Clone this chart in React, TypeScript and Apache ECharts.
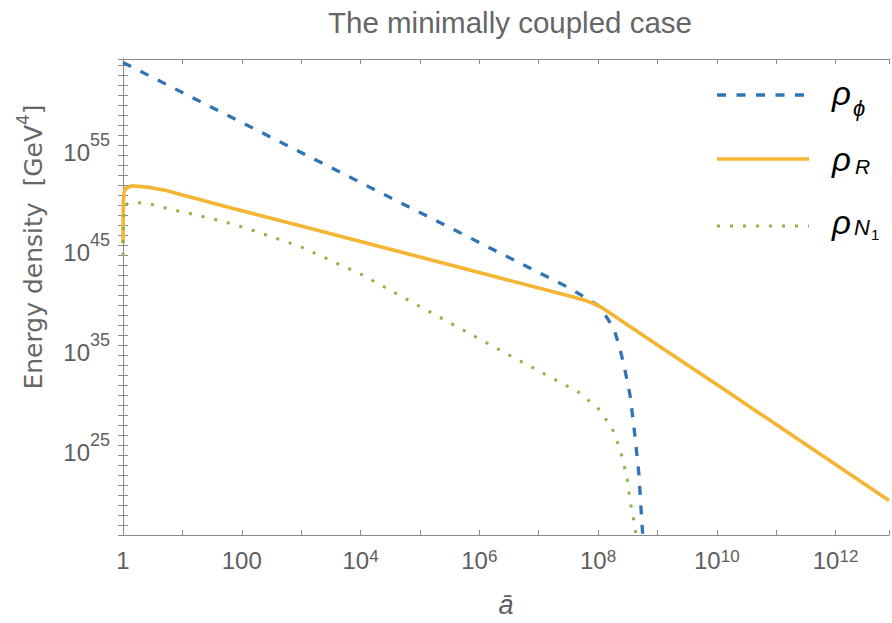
import React, { useEffect, useRef } from "react";
import * as echarts from "echarts";

const chartTitle = "The minimally coupled case";
const yTitle = "Energy density  [GeV";
const xTitle = "ā";

// log10(ā) and log10(ρ / GeV^4)
const rhoPhiLogA = [0, 1, 2, 3, 4, 5, 6, 7, 7.5, 7.87, 8.0, 8.1, 8.27, 8.37, 8.45, 8.54, 8.62, 8.69, 8.72, 8.75, 8.77];
const rhoPhiLogRho = [63.25, 60.25, 57.25, 54.25, 51.25, 48.25, 45.25, 42.25, 40.75, 39.45, 38.95, 38.2, 36.6, 34.6, 32.6, 29.95, 26.0, 22.0, 19.0, 16.2, 14.0];

const rhoRLogA = [0, 0.002, 0.006, 0.015, 0.04, 0.14, 0.45, 0.73, 1.0, 1.29, 1.84, 2.12, 3, 4, 5, 6, 7, 7.6, 7.8, 7.9, 8.0, 8.1, 9, 10, 11, 12, 12.9];
const rhoRLogRho = [45.2, 47.5, 49.3, 50.2, 50.65, 50.92, 50.76, 50.46, 50.0, 49.55, 48.68, 48.25, 46.89, 45.34, 43.8, 42.25, 40.7, 39.77, 39.42, 39.2, 38.95, 38.6, 35.0, 31.05, 27.05, 23.05, 19.45];

const rhoN1LogA = [0, 0.005, 0.028, 0.1, 0.22, 0.45, 0.85, 1.26, 1.67, 2.08, 3, 4, 5, 6, 6.56, 7.12, 7.68, 8.0, 8.24, 8.38, 8.49, 8.53, 8.57, 8.61, 8.64, 8.67];
const rhoN1LogRho = [43.9, 47.0, 49.0, 49.2, 49.26, 49.1, 48.51, 47.97, 47.38, 46.68, 44.8, 42.1, 38.85, 35.62, 33.8, 32.04, 30.25, 28.66, 26.67, 24.35, 21.7, 19.8, 18.4, 17.2, 16.0, 14.5];

const seriesNames = ["ρϕ", "ρR", "ρN1"];
const legendSubs = ["ϕ", "R", "N"];
const seriesColors = ["#2f74b5", "#f6b433", "#8fb443"];
const seriesDash: (number[] | "solid")[] = [[9, 10.5], "solid", [3, 10]];
const seriesWidth = [3.3, 3.6, 3];

const xMinExp = 0;
const xMaxExp = 12.9;
const yMinExp = 16;
const yMaxExp = 63.6;

const FONT = "'Liberation Sans', Arial, sans-serif";
const GRAY = "#5e5e5e";
const AXIS = "#8a8a8a";

function pairs(xs: number[], ys: number[]) {
  return xs.map((x, i) => [x, ys[i]]);
}

// legend layout (pixels)
const legendLineY = [95, 159, 226];
const legendRhoY = [93, 159, 222];
const legendSubY = [108, 166, 227.4];
const legendSubX = [853, 855, 854];
const legendSubSize = [22, 21, 22];

export default function App() {
  const ref = useRef<HTMLDivElement>(null);
  useEffect(() => {
    if (!ref.current) return;
    const chart = echarts.init(ref.current, undefined, { renderer: "svg" });

    const xLabel = (v: number) => {
      const r = Math.round(v);
      if (Math.abs(v - r) > 1e-6 || r % 2 !== 0) return "";
      if (r === 0) return "{n|1}";
      if (r === 2) return "{n|100}";
      return `{b|10}{s|${r}}`;
    };
    const yLabel = (v: number) => {
      const r = Math.round(v);
      if (Math.abs(v - r) > 1e-6 || ((r - 25) % 10 + 10) % 10 !== 0) return "";
      return `{b|10}{s|${r}}`;
    };

    const baseAxis = {
      type: "value" as const,
      axisLine: { show: true, lineStyle: { color: AXIS, width: 1 } },
      axisTick: { show: true, inside: true, length: 5, lineStyle: { color: AXIS, width: 1 } },
      splitLine: { show: false },
    };

    const legendGraphics: any[] = [];
    seriesNames.forEach((_, i) => {
      legendGraphics.push({
        type: "line",
        shape: { x1: 717, y1: legendLineY[i], x2: 809, y2: legendLineY[i] },
        style: {
          stroke: seriesColors[i],
          lineWidth: seriesWidth[i],
          lineDash: seriesDash[i] === "solid" ? null : seriesDash[i],
          lineCap: "butt",
        },
      });
      legendGraphics.push({
        type: "text",
        x: 832,
        y: legendRhoY[i],
        style: {
          text: "ρ",
          align: "left",
          verticalAlign: "middle",
          fontFamily: FONT,
          fontSize: 33,
          fontStyle: "italic",
          fill: "#000",
        },
      });
      legendGraphics.push({
        type: "text",
        x: legendSubX[i],
        y: legendSubY[i],
        style: {
          text: legendSubs[i],
          align: "left",
          verticalAlign: "middle",
          fontFamily: FONT,
          fontSize: legendSubSize[i],
          fontStyle: "italic",
          fill: "#000",
        },
      });
    });
    legendGraphics.push({
      type: "text",
      x: 871,
      y: 234.8,
      style: {
        text: "1",
        align: "left",
        verticalAlign: "middle",
        fontFamily: FONT,
        fontSize: 15,
        fill: "#000",
      },
    });

    const option: any = {
      animation: false,
      grid: { left: 123, right: -1, top: 59, bottom: 85.5 },
      xAxis: [
        {
          ...baseAxis,
          position: "bottom",
          min: xMinExp,
          max: xMaxExp,
          interval: 1,
          name: xTitle,
          nameLocation: "middle",
          nameGap: 56,
          nameTextStyle: { fontFamily: FONT, fontSize: 27, fontStyle: "italic", color: GRAY },
          axisLabel: {
            formatter: xLabel,
            margin: 13,
            verticalAlign: "top",
            color: GRAY,
            fontFamily: FONT,
            rich: {
              n: { fontFamily: FONT, fontSize: 24, lineHeight: 24, color: GRAY },
              b: { fontFamily: FONT, fontSize: 24, lineHeight: 24, padding: [10, 0, 0, 0], verticalAlign: "bottom", color: GRAY },
              s: { fontFamily: FONT, fontSize: 17, lineHeight: 11, verticalAlign: "top", color: GRAY },
            },
          },
        },
        {
          ...baseAxis,
          position: "top",
          min: xMinExp,
          max: xMaxExp,
          interval: 1,
          axisLabel: { show: false },
        },
      ],
      yAxis: [
        {
          ...baseAxis,
          position: "left",
          min: yMinExp,
          max: yMaxExp,
          interval: 1,
          axisLabel: {
            formatter: yLabel,
            margin: 13,
            color: GRAY,
            fontFamily: FONT,
            rich: {
              b: { fontFamily: FONT, fontSize: 24, lineHeight: 24, verticalAlign: "bottom", color: GRAY },
              s: { fontFamily: FONT, fontSize: 18, lineHeight: 38, padding: [5, 0, 0, 0], verticalAlign: "top", color: GRAY },
            },
          },
        },
        {
          ...baseAxis,
          position: "right",
          min: yMinExp,
          max: yMaxExp,
          interval: 1,
          axisLabel: { show: false },
        },
      ],
      graphic: [
        {
          type: "text",
          x: 510,
          y: 22,
          style: {
            text: chartTitle,
            align: "center",
            verticalAlign: "middle",
            fontFamily: FONT,
            fontSize: 29.5,
            fill: "#666666",
          },
        },
        {
          type: "text",
          x: 30,
          y: 247,
          rotation: Math.PI / 2,
          style: {
            text: `{t|${yTitle}}{u|4}{t|]}`,
            align: "center",
            verticalAlign: "middle",
            rich: {
              t: { fontFamily: "'DejaVu Sans', sans-serif", fontSize: 25, lineHeight: 28, verticalAlign: "bottom", fill: "#666666" },
              u: { fontFamily: "'DejaVu Sans', sans-serif", fontSize: 17, lineHeight: 32, verticalAlign: "top", fill: "#666666" },
            },
          },
        },
        ...legendGraphics,
      ],
      series: [
        {
          name: seriesNames[0],
          type: "line",
          data: pairs(rhoPhiLogA, rhoPhiLogRho),
          showSymbol: false,
          symbol: "none",
          clip: true,
          color: seriesColors[0],
          lineStyle: { color: seriesColors[0], width: seriesWidth[0], type: seriesDash[0], cap: "butt" },
        },
        {
          name: seriesNames[1],
          type: "line",
          data: pairs(rhoRLogA, rhoRLogRho),
          showSymbol: false,
          symbol: "none",
          clip: true,
          color: seriesColors[1],
          lineStyle: { color: seriesColors[1], width: seriesWidth[1], type: seriesDash[1] },
        },
        {
          name: seriesNames[2],
          type: "line",
          data: pairs(rhoN1LogA, rhoN1LogRho),
          showSymbol: false,
          symbol: "none",
          clip: true,
          color: seriesColors[2],
          lineStyle: { color: seriesColors[2], width: seriesWidth[2], type: seriesDash[2], cap: "butt" },
        },
      ],
    };

    chart.setOption(option);
    return () => chart.dispose();
  }, []);

  return (
    <div
      ref={ref}
      style={{ position: "fixed", left: 0, top: 0, width: 892, height: 623, background: "#fff" }}
    />
  );
}
